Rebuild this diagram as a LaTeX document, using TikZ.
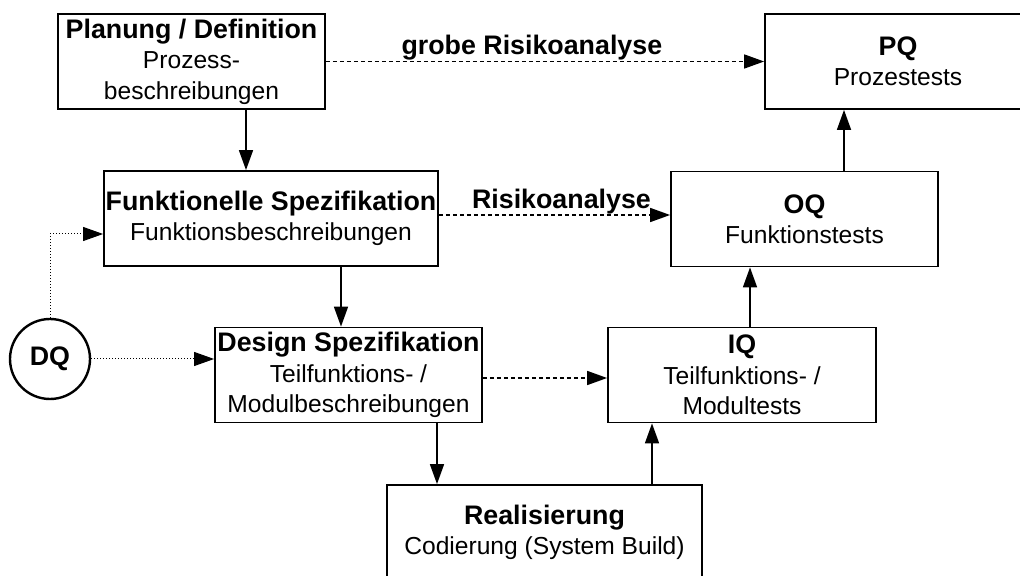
\documentclass[tikz,border=0pt]{standalone}
\usepackage{fontspec}
\setmainfont{Liberation Sans}
\usetikzlibrary{arrows.meta}
\newcommand{\titel}[1]{{\fontsize{13.4}{15.2}\selectfont\bfseries #1}}

\begin{document}
\begin{tikzpicture}[x=0.5pt,y=-0.5pt,
        font=\fontsize{12.3}{15.2}\selectfont,
        box/.style={draw, line width=0.9pt, align=center, inner sep=0pt, minimum height=47.5pt},
        arr/.style={line width=0.8pt, -{Triangle[length=10pt,width=7pt]}},
        riskline/.style={arr, dash pattern=on 2pt off 1.5pt},
        dqline/.style={arr, line width=0.5pt, densely dotted}]
        \useasboundingbox (0,0) rectangle (1020,576);

        % Draw phase boxes
        \node[box, minimum width=133.5pt] (plan) at (191.5,61.5) {\titel{Planung / Definition}\\Prozess-\\beschreibungen};
        \node[box, minimum width=167pt] (funk) at (271,218.5) {\titel{Funktionelle Spezifikation}\\Funktionsbeschreibungen};
        \node[box, minimum width=133.5pt] (design) at (348.5,375) {\titel{Design Spezifikation}\\Teilfunktions- /\\Modulbeschreibungen};
        \node[box, minimum width=157.5pt] (real) at (544.5,532.5) {\titel{Realisierung}\\Codierung (System Build)};
        \node[box, minimum width=134pt] (iq) at (742,375) {\titel{IQ}\\Teilfunktions- /\\Modultests};
        \node[box, minimum width=133.5pt] (oq) at (804.5,219) {\titel{OQ}\\Funktionstests};
        \node[box, minimum width=133pt] (pq) at (898,61.5) {\titel{PQ}\\Prozestests};
        \node[draw, circle, line width=1.2pt, minimum size=40pt, inner sep=0pt] (dq) at (50,359) {\titel{DQ}};

        % Draw main flow
        \coordinate (a1) at ([xshift=27.25pt]plan.south);
        \draw[arr] (a1) -- (a1 |- funk.north);
        \coordinate (a2) at ([xshift=35pt]funk.south);
        \draw[arr] (a2) -- (a2 |- design.north);
        \coordinate (a3) at ([xshift=44.25pt]design.south);
        \draw[arr] (a3) -- (a3 |- real.north);
        \coordinate (a4) at ([xshift=53.75pt]real.north);
        \draw[arr] (a4) -- (a4 |- iq.south);
        \coordinate (a5) at ([xshift=4pt]iq.north);
        \draw[arr] (a5) -- (a5 |- oq.south);
        \coordinate (a6) at ([xshift=19.75pt]oq.north);
        \draw[arr] (a6) -- (a6 |- pq.south);

        % Draw risk analysis links
        \draw[riskline] (plan.east) -- node[above, pos=0.47, inner sep=0.5pt] {\titel{grobe Risikoanalyse}} (pq.west);
        \coordinate (r1) at ([yshift=1.75pt]funk.east);
        \draw[riskline] (r1) -- node[above, pos=0.53, inner sep=0pt] {\titel{Risikoanalyse}} (r1 -| oq.west);
        \coordinate (r2) at ([yshift=-1.5pt]design.east);
        \draw[riskline] (r2) -- (r2 -| iq.west);

        % Draw DQ links
        \draw[dqline] (dq.east) -- (dq.east -| design.west);
        \coordinate (d1) at ([yshift=-7.75pt]funk.west);
        \draw[dqline] (dq.north) |- (d1);
    \end{tikzpicture}
\end{document}
